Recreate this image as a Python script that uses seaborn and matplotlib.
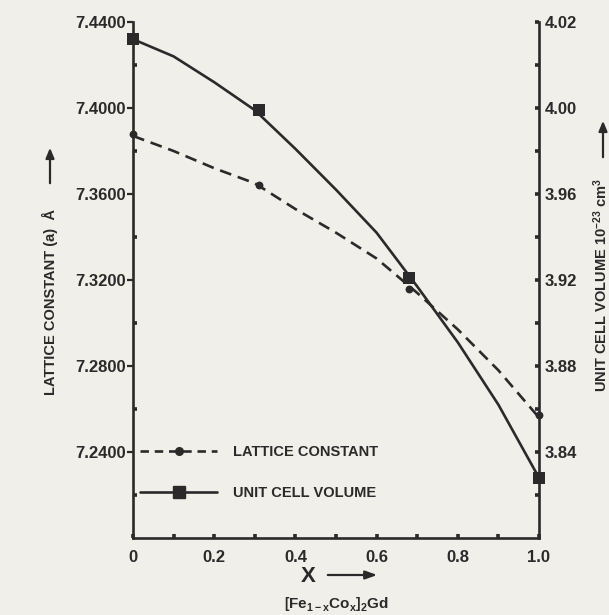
import matplotlib
matplotlib.use("Agg")
import matplotlib.pyplot as plt
import seaborn as sns
import pandas as pd
from matplotlib.lines import Line2D
from matplotlib.ticker import FixedLocator, FixedFormatter

# ---------------- data ----------------
x_meas = [0.0, 0.31, 0.68, 1.0]
lattice_meas = [7.388, 7.364, 7.316, 7.257]
volume_meas = [4.032, 3.999, 3.921, 3.828]

x_curve = [0.0, 0.1, 0.2, 0.3, 0.4, 0.5, 0.6, 0.7, 0.8, 0.9, 1.0]
lattice_curve = [7.387, 7.380, 7.372, 7.365, 7.353, 7.342, 7.330, 7.314, 7.297, 7.278, 7.256]
volume_curve = [4.032, 4.024, 4.012, 3.999, 3.981, 3.962, 3.942, 3.917, 3.891, 3.862, 3.828]

left_ticks = [7.24, 7.28, 7.32, 7.36, 7.40, 7.44]
left_labels = ["7.2400", "7.2800", "7.3200", "7.3600", "7.4000", "7.4400"]
left_minor = [7.22, 7.26, 7.30, 7.34, 7.38, 7.42]
right_ticks = [3.84, 3.88, 3.92, 3.96, 4.00, 4.04]
right_labels = ["3.84", "3.88", "3.92", "3.96", "4.00", "4.02"]
right_minor = [3.82, 3.86, 3.90, 3.94, 3.98, 4.02]
x_ticks = [0.0, 0.2, 0.4, 0.6, 0.8, 1.0]
x_labels = ["0", "0.2", "0.4", "0.6", "0.8", "1.0"]
x_minor = [0.1, 0.3, 0.5, 0.7, 0.9]

series_names = ["LATTICE CONSTANT", "UNIT CELL VOLUME"]

# ---------------- style ----------------
sns.set_style("ticks")
plt.rcParams["font.family"] = ["Liberation Sans", "DejaVu Sans"]
plt.rcParams["font.weight"] = "bold"
plt.rcParams["mathtext.fontset"] = "custom"
plt.rcParams["mathtext.rm"] = "Liberation Sans:bold"
plt.rcParams["mathtext.bf"] = "Liberation Sans:bold"
plt.rcParams["mathtext.it"] = "Liberation Sans:bold"

INK = "#2a2a2a"
BG = "#f0efe9"
W, H = 609, 615

fig = plt.figure(figsize=(W / 100, H / 100), dpi=100, facecolor=BG)
ax = fig.add_axes([133 / W, 1 - 538 / H, (539 - 133) / W, (538 - 22) / H])
ax.set_facecolor(BG)
ax2 = ax.twinx()

curve_df = pd.DataFrame({"x": x_curve, "lattice": lattice_curve, "volume": volume_curve})
meas_df = pd.DataFrame({"x": x_meas, "lattice": lattice_meas, "volume": volume_meas})

sns.lineplot(data=curve_df, x="x", y="lattice", ax=ax, color=INK, lw=1.9,
             linestyle=(0, (4.5, 2.6)))
sns.scatterplot(data=meas_df, x="x", y="lattice", ax=ax, color=INK, marker="o",
                s=32, edgecolor=INK, linewidth=0, zorder=5, clip_on=False)

sns.lineplot(data=curve_df, x="x", y="volume", ax=ax2, color=INK, lw=1.9)
sns.scatterplot(data=meas_df, x="x", y="volume", ax=ax2, color=INK, marker="s",
                s=85, edgecolor=INK, linewidth=0, zorder=5, clip_on=False)

ax.set_xlim(0, 1.0)
ax.set_ylim(7.20, 7.44)
ax2.set_ylim(3.80, 4.04)

for a in (ax, ax2):
    a.set_xlabel("")
    a.set_ylabel("")
    a.spines["top"].set_visible(False)
    for s in ("left", "right", "bottom"):
        a.spines[s].set_color(INK)
        a.spines[s].set_linewidth(1.9)
ax.spines["right"].set_visible(False)
ax2.spines["left"].set_visible(False)
ax2.spines["bottom"].set_visible(False)

# left axis ticks
ax.yaxis.set_major_locator(FixedLocator(left_ticks))
ax.yaxis.set_major_formatter(FixedFormatter(left_labels))
ax.yaxis.set_minor_locator(FixedLocator(left_minor))
ax.tick_params(axis="y", which="major", direction="out", length=4, width=1.6,
               color=INK, labelsize=12, labelcolor=INK, pad=1)
ax.tick_params(axis="y", which="minor", direction="in", length=2.6, width=2.6, color=INK)

# x axis ticks
ax.xaxis.set_major_locator(FixedLocator(x_ticks))
ax.xaxis.set_major_formatter(FixedFormatter(x_labels))
ax.xaxis.set_minor_locator(FixedLocator(x_minor))
ax.tick_params(axis="x", which="both", direction="in", length=2.6, width=2.6,
               color=INK, labelsize=12, labelcolor=INK, pad=9)

# right axis ticks
ax2.yaxis.set_major_locator(FixedLocator(right_ticks))
ax2.yaxis.set_major_formatter(FixedFormatter(right_labels))
ax2.yaxis.set_minor_locator(FixedLocator(right_minor))
ax2.tick_params(axis="y", which="both", direction="in", length=2.6, width=2.6,
                color=INK, labelsize=12, labelcolor=INK, pad=4)

for lab in ax.get_xticklabels() + ax.get_yticklabels() + ax2.get_yticklabels():
    lab.set_fontweight("bold")

# legend
handles = [
    Line2D([], [], color=INK, lw=1.9, linestyle=(0, (3.2, 2.2)), marker="o", markersize=5.5),
    Line2D([], [], color=INK, lw=1.9, marker="s", markersize=8.5),
]
fig.legend(handles, series_names, loc="upper left",
           bbox_to_anchor=(140 / W, 1 - 445 / H), frameon=False,
           handlelength=5.3, handletextpad=1.1, labelspacing=1.85,
           borderpad=0, borderaxespad=0,
           prop={"family": "Liberation Sans", "weight": "bold", "size": 10.5},
           labelcolor=INK)

# axis labels
fig.text(50 / W, 1 - 395 / H, "LATTICE CONSTANT (a)  Å", rotation=90,
         ha="center", va="bottom", fontsize=10.5, fontweight="bold", color=INK)
fig.patches.append(matplotlib.patches.FancyArrowPatch(
    (50 / W, 1 - 186 / H), (50 / W, 1 - 145 / H), transform=fig.transFigure,
    arrowstyle="-|>,head_length=6,head_width=2.5", color=INK, lw=1.6))

fig.text(601 / W, 1 - 392 / H, r"UNIT CELL VOLUME 10$^{-23}$ cm$^{3}$", rotation=90,
         ha="center", va="bottom", fontsize=10.5, fontweight="bold", color=INK)
fig.patches.append(matplotlib.patches.FancyArrowPatch(
    (603 / W, 1 - 160 / H), (603 / W, 1 - 118 / H), transform=fig.transFigure,
    arrowstyle="-|>,head_length=6,head_width=2.5", color=INK, lw=1.6))

fig.text(308 / W, 1 - 576 / H, "X", ha="center", va="center", fontsize=16,
         fontweight="bold", color=INK)
fig.patches.append(matplotlib.patches.FancyArrowPatch(
    (325 / W, 1 - 575 / H), (380 / W, 1 - 575 / H), transform=fig.transFigure,
    arrowstyle="-|>,head_length=7,head_width=2.5", color=INK, lw=1.6))

fig.text(336 / W, 1 - 604 / H,
         r"$\left[\mathrm{Fe}_{1-x}\mathrm{Co}_{x}\right]_{2}\mathrm{Gd}$",
         ha="center", va="center", fontsize=11, color=INK)

fig.savefig("out.png", dpi=100, facecolor=BG)
